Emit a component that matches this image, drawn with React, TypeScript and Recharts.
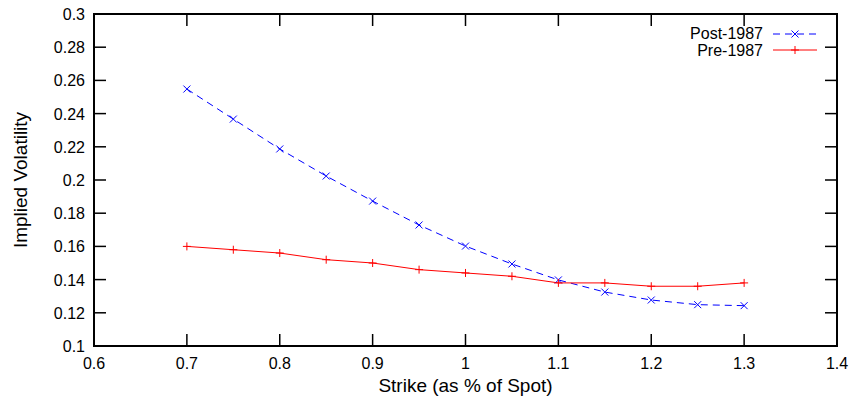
import { LineChart, Line, XAxis, YAxis, Legend, ReferenceArea } from 'recharts';

const strikes = [0.7, 0.75, 0.8, 0.85, 0.9, 0.95, 1.0, 1.05, 1.1, 1.15, 1.2, 1.25, 1.3];
const post1987 = [0.2548, 0.2367, 0.2187, 0.2024, 0.1873, 0.1729, 0.1602, 0.1494, 0.1398, 0.1325, 0.1277, 0.1249, 0.1243];
const pre1987 = [0.160, 0.158, 0.156, 0.152, 0.150, 0.146, 0.144, 0.142, 0.138, 0.138, 0.136, 0.136, 0.138];

const xTicks = [0.6, 0.7, 0.8, 0.9, 1, 1.1, 1.2, 1.3, 1.4];
const yTicks = [0.1, 0.12, 0.14, 0.16, 0.18, 0.2, 0.22, 0.24, 0.26, 0.28, 0.3];

const data = strikes.map((s, i) => ({ strike: s, post: post1987[i], pre: pre1987[i] }));

const FONT = '"Liberation Sans", Arial, sans-serif';
const TICK_LEN = 12;
const W = 849;
const H = 398;
const M = { top: 14, right: 12, bottom: 0, left: 8 };
const Y_AXIS_W = 86;
const X_AXIS_H = 52;
const PLOT_W = W - M.left - M.right - Y_AXIS_W;
const PLOT_H = H - M.top - M.bottom - X_AXIS_H;

// gnuplot style: ticks point inward, mirrored on the opposite side
function BottomTick({ x, y, payload }: any) {
  return (
    <g>
      <line x1={x} x2={x} y1={y} y2={y - TICK_LEN} stroke="#000" strokeWidth={1.5} />
      <line x1={x} x2={x} y1={y - PLOT_H} y2={y - PLOT_H + TICK_LEN} stroke="#000" strokeWidth={1.5} />
      <text x={x} y={y + 23} textAnchor="middle" fontSize={16} fontFamily={FONT} fill="#000">
        {String(payload.value)}
      </text>
    </g>
  );
}

function LeftTick({ x, y, payload }: any) {
  return (
    <g>
      <line x1={x} x2={x + TICK_LEN} y1={y} y2={y} stroke="#000" strokeWidth={1.5} />
      <line x1={x + PLOT_W} x2={x + PLOT_W - TICK_LEN} y1={y} y2={y} stroke="#000" strokeWidth={1.5} />
      <text x={x - 9} y={y + 6} textAnchor="end" fontSize={16} fontFamily={FONT} fill="#000">
        {String(payload.value)}
      </text>
    </g>
  );
}

function CrossDot({ cx, cy, index }: any) {
  const r = 3.5;
  return (
    <g key={`x-${index}`}>
      <line x1={cx - r} x2={cx + r} y1={cy - r} y2={cy + r} stroke="#0000ff" strokeWidth={1} />
      <line x1={cx - r} x2={cx + r} y1={cy + r} y2={cy - r} stroke="#0000ff" strokeWidth={1} />
    </g>
  );
}

function PlusDot({ cx, cy, index }: any) {
  const r = 4;
  return (
    <g key={`p-${index}`}>
      <line x1={cx - r} x2={cx + r} y1={cy} y2={cy} stroke="#ff0000" strokeWidth={1} />
      <line x1={cx} x2={cx} y1={cy - r} y2={cy + r} stroke="#ff0000" strokeWidth={1} />
    </g>
  );
}

function KeyBox() {
  const cy = M.top + PLOT_H / 2;
  return (
    <svg width={W} height={H} style={{ display: 'block', overflow: 'visible' }}>
      <text x={763} y={39} textAnchor="end" fontSize={16} fontFamily={FONT} fill="#000">Post-1987</text>
      <line x1={773} x2={817} y1={34} y2={34} stroke="#0000ff" strokeWidth={1} strokeDasharray="7 5" />
      <CrossDot cx={795} cy={34} index={0} />
      <text x={763} y={56} textAnchor="end" fontSize={16} fontFamily={FONT} fill="#000">Pre-1987</text>
      <line x1={773} x2={817} y1={50} y2={50} stroke="#ff0000" strokeWidth={1} />
      <PlusDot cx={795} cy={50} index={0} />
      <text x={M.left + Y_AXIS_W + PLOT_W / 2} y={392} textAnchor="middle" fontSize={19} fontFamily={FONT} fill="#000">
        Strike (as % of Spot)
      </text>
      <text
        x={20}
        y={cy}
        transform={`rotate(-90 20 ${cy})`}
        textAnchor="middle"
        dominantBaseline="central"
        fontSize={19}
        fontFamily={FONT}
        fill="#000"
      >
        Implied Volatility
      </text>
    </svg>
  );
}

export default function App() {
  return (
    <div style={{ position: 'fixed', left: 0, top: 0, width: W, height: H, background: '#fff' }}>
      <LineChart width={W} height={H} data={data} margin={M}>
        <XAxis
          dataKey="strike"
          type="number"
          domain={[0.6, 1.4]}
          ticks={xTicks}
          height={X_AXIS_H}
          tickSize={0}
          tickMargin={0}
          tickLine={false}
          axisLine={false}
          tick={<BottomTick />}
          interval={0}
        />
        <YAxis
          type="number"
          domain={[0.1, 0.3]}
          ticks={yTicks}
          width={Y_AXIS_W}
          tickSize={0}
          tickMargin={0}
          tickLine={false}
          axisLine={false}
          tick={<LeftTick />}
          interval={0}
        />
        <ReferenceArea x1={0.6} x2={1.4} y1={0.1} y2={0.3} fill="none" stroke="#000" strokeWidth={2} />
        <Legend
          verticalAlign="middle"
          align="center"
          layout="horizontal"
          wrapperStyle={{ position: 'absolute', left: 0, top: 0, width: W, height: H, pointerEvents: 'none' }}
          content={() => <KeyBox />}
        />
        <Line
          dataKey="post"
          stroke="#0000ff"
          strokeWidth={1}
          strokeDasharray="7 5"
          dot={<CrossDot />}
          activeDot={false}
          isAnimationActive={false}
        />
        <Line
          dataKey="pre"
          stroke="#ff0000"
          strokeWidth={1}
          dot={<PlusDot />}
          activeDot={false}
          isAnimationActive={false}
        />
      </LineChart>
    </div>
  );
}
